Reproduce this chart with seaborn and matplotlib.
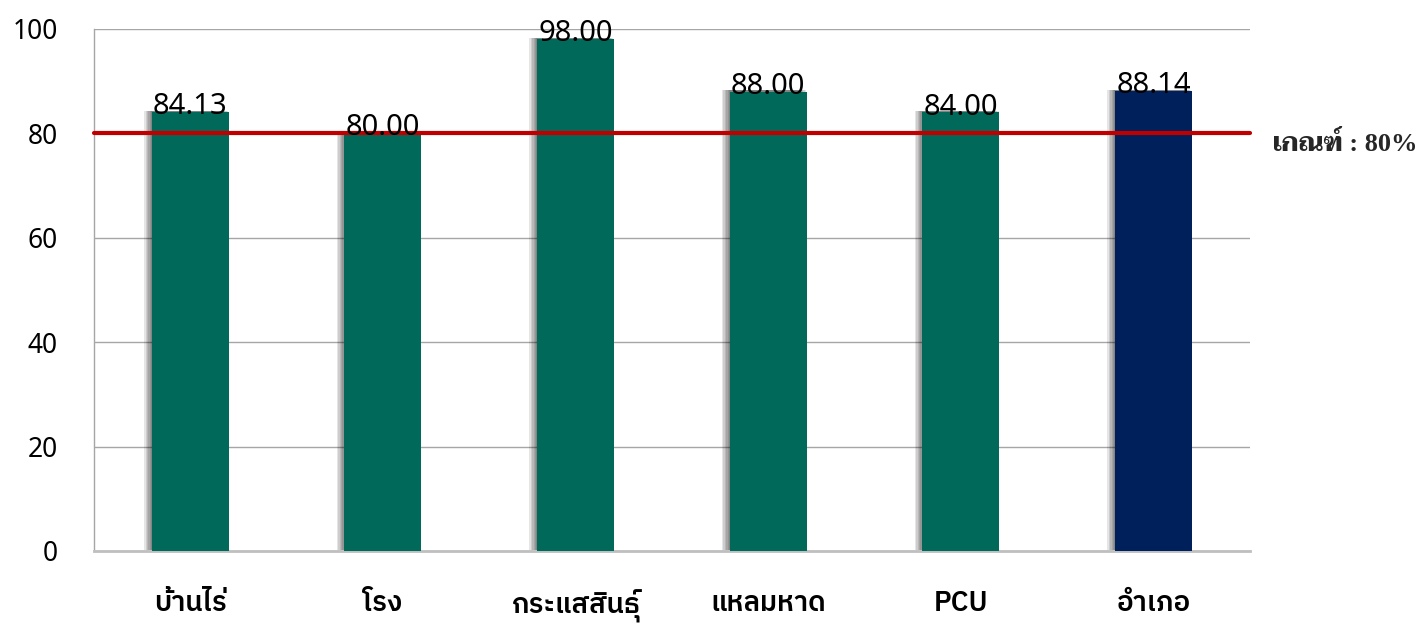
import matplotlib
matplotlib.use('Agg')
import matplotlib.pyplot as plt
import matplotlib.patheffects as pe
import seaborn as sns
import pandas as pd

# Data
places = ['บ้านไร่', 'โรง', 'กระแสสินธุ์', 'แหลมหาด', 'PCU', 'อำเภอ']
scores = [84.13, 80.00, 98.00, 88.00, 84.00, 88.14]
bar_colors = ['#00695A', '#00695A', '#00695A', '#00695A', '#00695A', '#00205B']
target = 80
target_label = 'เกณฑ์ : 80%'

df = pd.DataFrame({'place': places, 'score': scores})

sns.set_style('white')
sans = ['Noto Sans', 'IBM Plex Sans Thai']
serif = ['Liberation Serif', 'Taviraj']
plt.rcParams['font.family'] = sans

fig = plt.figure(figsize=(14.28, 6.23), dpi=100)
ax = fig.add_axes([0.0658, 0.1156, 0.8095, 0.838])

sns.barplot(data=df, x='place', y='score', hue='place', palette=bar_colors,
            width=0.4, legend=False, ax=ax, saturation=1, zorder=3,
            linewidth=0, edgecolor='none')

# soft shadow on the left side of each bar
shadow = [pe.SimplePatchShadow(offset=(-d, 0.8), shadow_rgbFace='black', alpha=0.1)
          for d in (5.5, 4.5, 3.5, 2.5, 1.5, 0.5)]
for bar in ax.patches:
    bar.set_path_effects(shadow + [pe.Normal()])

# value labels
for i, v in enumerate(scores):
    ax.text(i, v - 0.4, f'{v:.2f}', ha='center', va='baseline',
            fontsize=21, color='black', zorder=5)

# target line
ax.axhline(target, color='#C00000', lw=3, zorder=4, clip_on=False)
ax.text(1.02, (target - 2) / 100, target_label, transform=ax.transAxes,
        ha='left', va='center', fontsize=19, fontweight='bold', family=serif)

ax.set_ylim(0, 100)
ax.set_xlim(-0.5, 5.5)
ax.set_yticks([0, 20, 40, 60, 80, 100])
ax.yaxis.grid(True, color='#A6A6A6', lw=1)
ax.set_axisbelow(True)
ax.set_xlabel('')
ax.set_ylabel('')
for s in ['top', 'right']:
    ax.spines[s].set_visible(False)
ax.spines['left'].set_color('#A6A6A6')
ax.spines['left'].set_linewidth(1)
ax.spines['bottom'].set_color('#BFBFBF')
ax.spines['bottom'].set_linewidth(2)
ax.tick_params(axis='y', length=0, pad=26, labelsize=19, labelcolor='black')
ax.tick_params(axis='x', length=0, pad=28, labelsize=20, labelcolor='black')
for t in ax.get_xticklabels():
    t.set_fontweight('semibold')
    t.set_family(['IBM Plex Sans Thai'])

fig.savefig('out.png', dpi=100)
